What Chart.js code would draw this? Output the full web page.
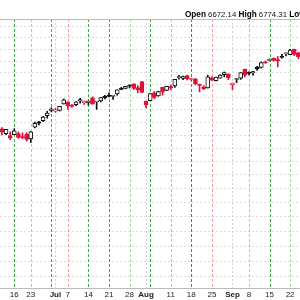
<!DOCTYPE html>
<html>
<head>
<meta charset="utf-8">
<script src="https://cdn.jsdelivr.net/npm/chart.js@4.4.1/dist/chart.umd.min.js"></script>
<style>
  html, body { margin: 0; padding: 0; background: #fff; }
  #wrap { position: relative; width: 300px; height: 300px; overflow: hidden; }
  #quote { position: absolute; top: 10px; left: 185px; white-space: nowrap;
    font-family: "Liberation Sans", Arial, sans-serif; font-size: 7.8px; line-height: 10px; color: #111; }
  #quote b { font-size: 8.2px; color: #000; }
  canvas { display: block; }
</style>
</head>
<body>
<div id="wrap">
  <canvas id="chart" width="300" height="300"></canvas>
  <div id="quote"><b>Open</b> 6672.14 <b>High</b> 6774.31 <b>Low</b></div>
</div>
<script>
// trading days (2025) and daily OHLC
const dates = ['06-10','06-11','06-12','06-13','06-16','06-17','06-18','06-20','06-23','06-24','06-25','06-26','06-27',
  '06-30','07-01','07-02','07-03','07-07','07-08','07-09','07-10','07-11','07-14','07-15','07-16','07-17','07-18',
  '07-21','07-22','07-23','07-24','07-25','07-28','07-29','07-30','07-31','08-01','08-04','08-05','08-06','08-07','08-08',
  '08-11','08-12','08-13','08-14','08-15','08-18','08-19','08-20','08-21','08-22','08-25','08-26','08-27','08-28','08-29',
  '09-02','09-03','09-04','09-05','09-08','09-09','09-10','09-11','09-12','09-15','09-16','09-17','09-18','09-19',
  '09-22','09-23','09-24'];
const opens = [6009,6049,6010,5997, 6004,6012,5987,6005, 5970,6062,6104,6113,6151, 6193,6187,6194,6246,
  6260,6232,6240,6267,6256, 6255,6295,6261,6269,6306, 6311,6307,6326,6368,6371, 6397,6409,6379,6428,6269,
  6271,6336,6310,6380,6356, 6387,6393,6461,6453,6478, 6445,6448,6406,6384,6375, 6458,6436,6457,6486,6491,
  6401,6445,6456,6532, 6505,6499,6547,6545,6590, 6606,6626,6612,6637,6661, 6655,6701,6670];
const highs = [6043,6059,6045,6026, 6050,6024,6018,6019, 6028,6101,6108,6146,6187, 6215,6210,6227,6285,
  6263,6242,6265,6290,6269, 6272,6303,6265,6298,6315, 6336,6316,6360,6381,6389, 6401,6410,6394,6428,6269,
  6330,6346,6349,6380,6390, 6398,6446,6480,6474,6481, 6456,6456,6407,6394,6481, 6467,6466,6485,6508,6492,
  6416,6454,6502,6532, 6508,6513,6556,6592,6601, 6619,6627,6639,6657,6671, 6700,6703,6675];
const lows = [6003,6002,6003,5964, 6004,5975,5971,5953, 5943,6055,6080,6105,6132, 6182,6178,6189,6244,
  6201,6218,6231,6251,6241, 6236,6244,6202,6262,6285, 6303,6281,6316,6360,6368, 6375,6362,6334,6337,6213,
  6271,6287,6307,6316,6353, 6362,6380,6447,6443,6441, 6437,6400,6343,6360,6374, 6438,6433,6457,6467,6444,
  6360,6419,6446,6467, 6483,6481,6521,6540,6580, 6602,6600,6551,6625,6643, 6655,6647,6619];
const closes = [6038,6022,6045,5977, 6033,5982,5981,5967, 6025,6092,6092,6141,6173, 6205,6198,6227,6279,
  6230,6226,6263,6280,6259, 6269,6244,6264,6297,6297, 6306,6309,6359,6363,6389, 6390,6371,6362,6339,6238,
  6330,6299,6345,6340,6389, 6374,6446,6466,6469,6450, 6449,6411,6396,6370,6467, 6439,6466,6481,6502,6460,
  6416,6448,6502,6482, 6495,6512,6532,6587,6584, 6615,6606,6600,6631,6664, 6693,6656,6638];

// weekly markers: 2 = strong up, 1 = weak up, -1 = weak down, -2 = strong down
const weekDates = ['06-16','06-23','06-30','07-07','07-14','07-21','07-28','08-04','08-11','08-18','08-25','09-08','09-15','09-22'];
const weekSignal = [2, 1, 2, -1, 2, 2, 1, 2, -1, -2, -1, 1, 2, 1];
const monthDates = ['07-01','08-01','09-02'];

const tickDates = ['06-16','06-23','07-01','07-07','07-14','07-21','07-28','08-01','08-11','08-18','08-25','09-02','09-08','09-15','09-22'];
const tickLabels = ['16','23','Jul','7','14','21','28','Aug','11','18','25','Sep','8','15','22'];
const monthLabels = ['Jul','Aug','Sep'];

const gridPrices = [5000,5100,5200,5300,5400,5500,5600,5700,5800,5900,6000,6100,6200,6300,6400,6500,6600,6700,6800,6900];

const RED = 'rgb(222,18,58)';
const BLACK = '#111';

function lineColor(i) {
  const prev = i > 0 ? closes[i - 1] : opens[i];
  return closes[i] < prev ? RED : BLACK;
}
function bodyFill(i) {
  return closes[i] >= opens[i] ? '#fff' : lineColor(i);
}

const colors = dates.map((d, i) => lineColor(i));
const fills = dates.map((d, i) => bodyFill(i));
const bodies = dates.map((d, i) => ({ x: i, y: [opens[i], closes[i]] }));
const wicks = dates.map((d, i) => ({ x: i, y: [lows[i], highs[i]] }));

const signalColor = {
  '2': 'rgba(45,165,45,0.9)',
  '1': 'rgba(70,180,70,0.5)',
  '-1': 'rgba(245,80,80,0.55)',
  '-2': 'rgba(230,45,45,0.95)'
};

// vertical week / month markers and the top border
const markerLines = {
  id: 'markerLines',
  beforeDatasetsDraw(chart) {
    const { ctx, chartArea: a, scales: { x } } = chart;
    ctx.save();
    ctx.lineWidth = 1;
    ctx.setLineDash([2, 2]);
    ctx.strokeStyle = '#d4d4d4';
    monthDates.forEach(d => {
      const px = Math.round(x.getPixelForValue(dates.indexOf(d))) + 0.5;
      ctx.beginPath(); ctx.moveTo(px, a.top); ctx.lineTo(px, a.bottom); ctx.stroke();
    });
    ctx.setLineDash([3, 2]);
    weekDates.forEach((d, k) => {
      const px = Math.round(x.getPixelForValue(dates.indexOf(d))) + 0.5;
      ctx.strokeStyle = signalColor[String(weekSignal[k])];
      ctx.beginPath(); ctx.moveTo(px, a.top); ctx.lineTo(px, a.bottom); ctx.stroke();
    });
    ctx.setLineDash([]);
    ctx.strokeStyle = '#bdbdbd';
    ctx.beginPath(); ctx.moveTo(a.left, a.top + 0.5); ctx.lineTo(a.right, a.top + 0.5); ctx.stroke();
    ctx.restore();
  }
};

const firstIdx = dates.indexOf('06-16');

new Chart(document.getElementById('chart'), {
  type: 'bar',
  data: {
    datasets: [
      { data: bodies, backgroundColor: fills, borderColor: colors, borderWidth: 1, borderSkipped: false,
        barThickness: 4, minBarLength: 1, grouped: false, order: 0 },
      { data: wicks, backgroundColor: colors, borderWidth: 0, barThickness: 1, grouped: false, order: 1 }
    ]
  },
  options: {
    responsive: false,
    animation: false,
    devicePixelRatio: 1,
    layout: { padding: { top: 19, left: 0, right: 0, bottom: 0 } },
    plugins: { legend: { display: false }, tooltip: { enabled: false } },
    scales: {
      x: {
        type: 'linear',
        offset: false,
        min: firstIdx - 3.47,
        max: firstIdx + 69.4,
        grid: { display: false, drawTicks: false, offset: false },
        border: { display: true, color: '#bbb' },
        afterBuildTicks: s => { s.ticks = tickDates.map(d => ({ value: dates.indexOf(d) })); },
        afterFit: s => { s.height = 12; },
        ticks: {
          autoSkip: false,
          maxRotation: 0,
          padding: 2,
          color: '#222',
          font: ctx => ({ family: '"Liberation Sans", Arial, sans-serif', size: 8,
            weight: monthLabels.includes(tickLabels[ctx.index]) ? 'bold' : 'normal' }),
          callback: (v, i) => tickLabels[i]
        }
      },
      y: {
        type: 'logarithmic',
        position: 'right',
        min: 4928,
        max: 6967,
        afterBuildTicks: s => { s.ticks = gridPrices.map(v => ({ value: v })); },
        afterFit: s => { s.width = 0; },
        ticks: { display: false },
        grid: { color: '#dedede', drawTicks: false },
        border: { display: false, dash: [2, 2] }
      }
    }
  },
  plugins: [markerLines]
});
</script>
</body>
</html>
